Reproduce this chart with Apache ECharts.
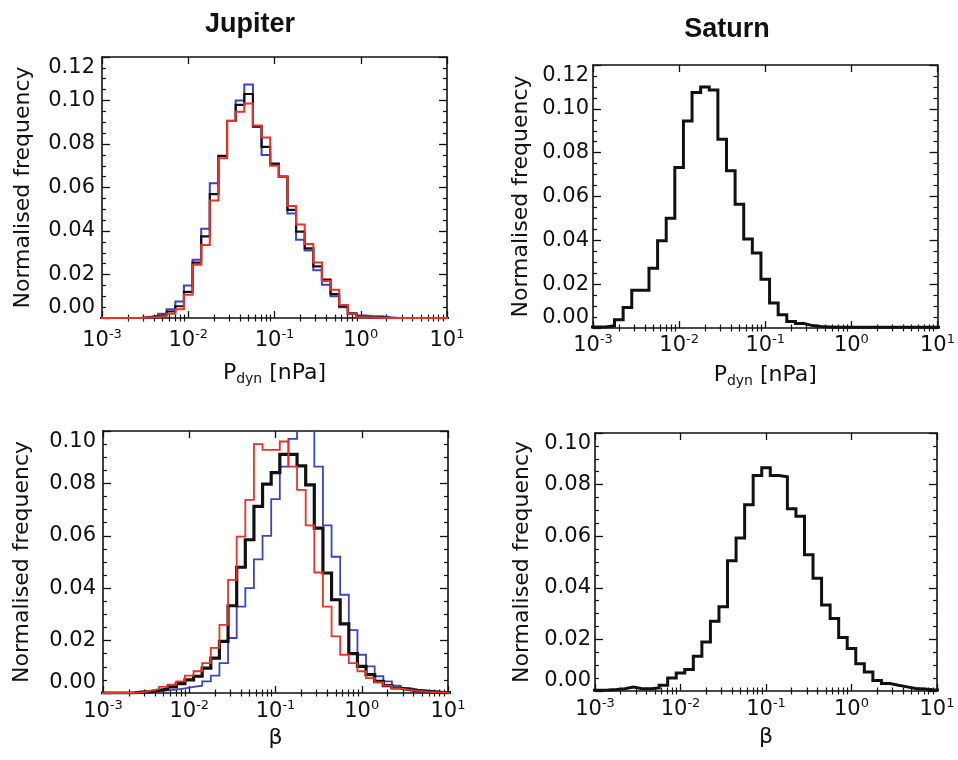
<!DOCTYPE html>
<html>
<head>
    <meta charset="utf-8" />
    <title>Jupiter / Saturn histograms</title>
    <script src="https://cdn.jsdelivr.net/npm/echarts@6/dist/echarts.min.js"></script>
    <style>
        body { margin: 0; background: #fff; }
    </style>
</head>
<body>
    <div id="main" style="width: 958px;height:760px;"></div>
    <script type="text/javascript">
        // bins: centres at 10^-3 ... 10^1, 0.1 dex apart (41 bins)
        var binCentreLog0 = -3;
        var binStep = 0.1;

        var decadeTicks = [0.001, 0.01, 0.1, 1, 10];

        // Jupiter, P_dyn
        var jupPdynBlack = [0, 0, 0, 0, 0, 0.0003, 0.0008, 0.0015, 0.003, 0.0054,
            0.012, 0.0255, 0.0375, 0.057, 0.0745, 0.0906, 0.098, 0.103, 0.088, 0.0787,
            0.071, 0.065, 0.0497, 0.0397, 0.032, 0.0237, 0.0176, 0.011, 0.0054, 0.002,
            0.0005, 0.0003, 0.0002, 0, 0, 0, 0, 0, 0, 0, 0];
        var jupPdynBlue = [0, 0, 0, 0, 0, 0.0005, 0.001, 0.002, 0.004, 0.0076,
            0.015, 0.0268, 0.041, 0.062, 0.0745, 0.0906, 0.1, 0.1073, 0.088, 0.075,
            0.0705, 0.065, 0.048, 0.036, 0.031, 0.022, 0.0153, 0.01, 0.005, 0.0022,
            0.0011, 0.0008, 0.0008, 0.0003, 0, 0, 0, 0, 0, 0, 0];
        var jupPdynRed = [0, 0, 0, 0, 0, 0.0002, 0.0005, 0.001, 0.002, 0.004,
            0.0107, 0.0245, 0.0336, 0.054, 0.0735, 0.0906, 0.0948, 0.0986, 0.0885, 0.083,
            0.07, 0.065, 0.0515, 0.043, 0.034, 0.0255, 0.017, 0.013, 0.006, 0.002,
            0.0004, 0.0002, 0, 0, 0, 0, 0, 0, 0, 0, 0];

        // Saturn, P_dyn
        var satPdyn = [0.0005, 0.0005, 0.001, 0.0038, 0.0094, 0.0172, 0.0172, 0.0273, 0.0398, 0.0501,
            0.0732, 0.0945, 0.1074, 0.11, 0.1086, 0.0861, 0.0717, 0.0565, 0.0406, 0.0342,
            0.0223, 0.0114, 0.0061, 0.003, 0.002, 0.0011, 0.0007, 0.0005, 0.0003, 0.0003,
            0.0003, 0.0003, 0.0003, 0.0003, 0.0003, 0.0003, 0.0003, 0.0003, 0.0003, 0.0003, 0.0003];

        // Jupiter, beta
        var jupBetaBlack = [0, 0, 0, 0, 0.0003, 0.0005, 0.001, 0.0015, 0.0023, 0.0036,
            0.005, 0.0064, 0.0095, 0.0133, 0.0197, 0.0333, 0.048, 0.0585, 0.0712, 0.0797,
            0.0841, 0.0911, 0.0911, 0.0867, 0.0794, 0.0629, 0.0458, 0.0356, 0.0264, 0.015,
            0.0102, 0.007, 0.0044, 0.0028, 0.0019, 0.0013, 0.0009, 0.0006, 0.0004, 0.0002, 0.0001];
        var jupBetaBlue = [0, 0, 0, 0, 0.0003, 0.0006, 0.0008, 0.001, 0.0013, 0.0018,
            0.0023, 0.0028, 0.0044, 0.0066, 0.0114, 0.021, 0.033, 0.04, 0.051, 0.06,
            0.074, 0.0864, 0.097, 0.106, 0.104, 0.0864, 0.064, 0.052, 0.0375, 0.024,
            0.0146, 0.0102, 0.0064, 0.0044, 0.0028, 0.0019, 0.0013, 0.001, 0.0006, 0.0004, 0.0002];
        var jupBetaRed = [0, 0, 0, 0, 0.0002, 0.0008, 0.0015, 0.0023, 0.0032, 0.0044,
            0.0066, 0.0083, 0.0114, 0.0172, 0.026, 0.0432, 0.0597, 0.0737, 0.095, 0.0928,
            0.0928, 0.096, 0.0864, 0.0775, 0.064, 0.046, 0.033, 0.0216, 0.0146, 0.0114,
            0.0083, 0.0057, 0.004, 0.0028, 0.0018, 0.0012, 0.0008, 0.0005, 0.0003, 0.0002, 0];

        // Saturn, beta
        var satBeta = [0.0003, 0.0004, 0.0006, 0.0009, 0.0015, 0.0009, 0.0009, 0.0012, 0.0022, 0.005,
            0.007, 0.0083, 0.0135, 0.019, 0.027, 0.0327, 0.0505, 0.0593, 0.0722, 0.0835,
            0.0865, 0.0835, 0.083, 0.0706, 0.0677, 0.0528, 0.0437, 0.0333, 0.0281, 0.0207,
            0.0165, 0.0106, 0.0074, 0.0041, 0.0029, 0.0022, 0.0016, 0.001, 0.0008, 0.0005, 0.0003];

        var RED = '#e8322c';
        var BLUE = '#3a47b8';
        var FONT = 'DejaVu Sans';

        // minor log ticks 2..9 x 10^n
        var minorX = [];
        for (var d = -3; d < 1; d++) {
            for (var m = 2; m <= 9; m++) minorX.push(m * Math.pow(10, d));
        }

        // histogram -> step line points, drawn from each bin's left edge
        function histPoints(vals) {
            var pts = [];
            for (var k = 0; k < vals.length; k++) {
                var c = binCentreLog0 + binStep * k;
                pts.push([Math.pow(10, c - binStep / 2), vals[k]]);
            }
            var last = binCentreLog0 + binStep * (vals.length - 1);
            pts.push([Math.pow(10, last + binStep / 2), vals[vals.length - 1]]);
            return pts;
        }

        var supRich = {
            b: { fontSize: 21, fontFamily: FONT, color: '#111', lineHeight: 22, padding: [3, 0, 0, 0] },
            sup: { fontSize: 13, fontFamily: FONT, color: '#111', lineHeight: 13, verticalAlign: 'top' }
        };
        var subRich = {
            b: { fontSize: 22, fontFamily: FONT, color: '#111', lineHeight: 22, padding: [0, 0, 4, 0] },
            sub: { fontSize: 14, fontFamily: FONT, color: '#111', lineHeight: 14, verticalAlign: 'bottom' }
        };

        var grids = [
            { left: 102, top: 57, width: 345, height: 261 },
            { left: 593, top: 65, width: 348, height: 263 },
            { left: 103, top: 431, width: 345, height: 262 },
            { left: 595, top: 433, width: 342, height: 258 }
        ];

        var xAxes = [], yAxes = [];

        function addAxes(gi, ymax, xName, xRich, xNameGap, xLabelMargin, yNameGap, yLabelMargin) {
            var base = {
                type: 'log', logBase: 10, gridIndex: gi, min: 0.001, max: 10,
                splitLine: { show: false },
                axisLine: { show: true, onZero: false, lineStyle: { color: '#111', width: 1.6 } }
            };
            xAxes.push(Object.assign({}, base, {
                position: 'bottom',
                axisTick: { inside: true, length: 7, customValues: decadeTicks, lineStyle: { color: '#111', width: 1.3 } },
                axisLabel: {
                    margin: xLabelMargin, customValues: decadeTicks,
                    formatter: function (v) {
                        return '{b|10}{sup|' + Math.round(Math.log10(v)) + '}';
                    },
                    rich: supRich
                },
                name: xName, nameLocation: 'middle', nameGap: xNameGap,
                nameTextStyle: { rich: xRich, fontSize: 22, fontFamily: FONT, color: '#111' }
            }));
            xAxes.push(Object.assign({}, base, {
                position: 'top',
                axisTick: { inside: true, length: 7, customValues: decadeTicks, lineStyle: { color: '#111', width: 1.3 } },
                axisLabel: { show: false }
            }));
            // minor ticks, bottom and top
            ['bottom', 'top'].forEach(function (pos) {
                xAxes.push(Object.assign({}, base, {
                    position: pos,
                    axisLine: { show: false },
                    axisTick: { inside: true, length: 3.5, customValues: minorX, lineStyle: { color: '#111', width: 1.2 } },
                    axisLabel: { show: false }
                }));
            });

            var ybase = {
                type: 'value', gridIndex: gi, min: 0, max: ymax, interval: 0.02,
                splitLine: { show: false },
                axisLine: { show: true, onZero: false, lineStyle: { color: '#111', width: 1.6 } },
                axisTick: { inside: true, length: 8, lineStyle: { color: '#111', width: 1.3 } },
                minorTick: { show: true, splitNumber: 4, length: 4, lineStyle: { color: '#111', width: 1.2 } }
            };
            yAxes.push(Object.assign({}, ybase, {
                position: 'left',
                axisLabel: {
                    margin: yLabelMargin, fontSize: 21, fontFamily: FONT, color: '#111',
                    formatter: function (v) { return v.toFixed(2); },
                    verticalAlignMinLabel: 'bottom',
                    verticalAlignMaxLabel: 'top'
                },
                name: 'Normalised frequency', nameLocation: 'middle', nameRotate: 90, nameGap: yNameGap,
                nameTextStyle: { fontSize: 22, fontFamily: FONT, color: '#111' }
            }));
            yAxes.push(Object.assign({}, ybase, {
                position: 'right',
                axisLabel: { show: false }
            }));
        }

        var pdynName = '{b|P}{sub|dyn}{b| [nPa]}';
        addAxes(0, 0.12, pdynName, subRich, 46, 10, 68, 7);
        addAxes(1, 0.12, pdynName, subRich, 38, 5, 61, 4);
        addAxes(2, 0.10, 'β', null, 34, 6, 70, 7);
        addAxes(3, 0.10, 'β', null, 35, 6, 62, 4);

        function hist(gi, vals, color, width) {
            return {
                type: 'line', step: 'end', xAxisIndex: gi * 4, yAxisIndex: gi * 2,
                data: histPoints(vals), showSymbol: false, symbol: 'none', clip: true,
                lineStyle: { color: color, width: width, join: 'miter' },
                silent: true
            };
        }

        var myChart = echarts.init(document.getElementById('main'));
        myChart.setOption({
            backgroundColor: '#fff',
            animation: false,
            title: [
                { text: 'Jupiter', left: 245, top: 6, textAlign: 'center',
                  textStyle: { fontSize: 27, fontWeight: 'bold', fontFamily: 'Liberation Sans', color: '#111' } },
                { text: 'Saturn', left: 722, top: 11, textAlign: 'center',
                  textStyle: { fontSize: 27, fontWeight: 'bold', fontFamily: 'Liberation Sans', color: '#111' } }
            ],
            grid: grids,
            xAxis: xAxes,
            yAxis: yAxes,
            series: [
                hist(0, jupPdynBlue, BLUE, 2),
                hist(0, jupPdynBlack, '#111', 2.2),
                hist(0, jupPdynRed, RED, 2),
                hist(1, satPdyn, '#111', 3),
                hist(2, jupBetaBlue, BLUE, 1.8),
                hist(2, jupBetaBlack, '#111', 3.2),
                hist(2, jupBetaRed, RED, 1.8),
                hist(3, satBeta, '#111', 3)
            ]
        });
    </script>
</body>
</html>
